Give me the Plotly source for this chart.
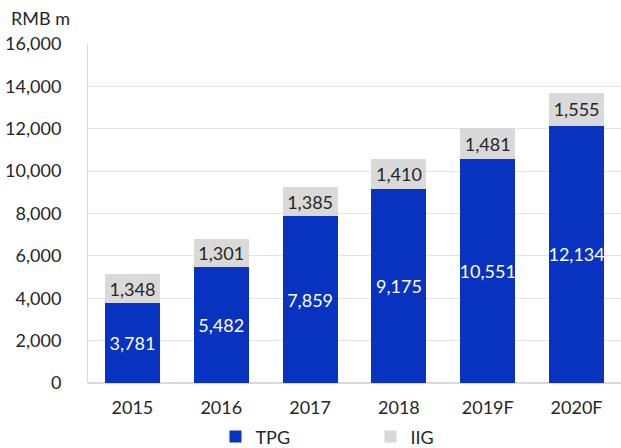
import plotly.graph_objects as go

years = ["2015", "2016", "2017", "2018", "2019F", "2020F"]
tpg = [3781, 5482, 7859, 9175, 10551, 12134]
iig = [1348, 1301, 1385, 1410, 1481, 1555]
y_ticks = list(range(0, 16001, 2000))

BLUE = "#0832C0"
GREY = "#D9D9D9"
FONT = "Lato"
FS = 18

fig = go.Figure()
fig.add_trace(go.Bar(
    x=years, y=tpg, name="TPG", marker=dict(color=BLUE, line=dict(width=0)),
    text=[f"{v:,}" for v in tpg], textposition="inside", insidetextanchor="middle",
    textangle=0,
    textfont=dict(color="white", size=FS, family=FONT), constraintext="none",
))
fig.add_trace(go.Bar(
    x=years, y=iig, name="IIG", marker=dict(color=GREY, line=dict(width=0)),
    text=[f"{v:,}" for v in iig], textposition="inside", insidetextanchor="middle",
    textangle=0,
    textfont=dict(color="#262626", size=FS, family=FONT), constraintext="none",
))

fig.update_layout(
    barmode="stack", bargap=0.38,
    width=621, height=448,
    margin=dict(l=88, r=0, t=44, b=65, autoexpand=False),
    plot_bgcolor="white", paper_bgcolor="white",
    font=dict(family=FONT, size=FS, color="#262626"),
    showlegend=True,
    legend=dict(orientation="h", x=0.53, xanchor="center", yref="container",
                y=0.025, yanchor="middle",
                font=dict(size=FS), entrywidth=110, traceorder="normal"),
    annotations=[dict(text="RMB m", xref="paper", yref="paper", x=-0.148, y=1.077,
                      xanchor="left", yanchor="middle", showarrow=False,
                      font=dict(size=FS, color="#262626"))],
)
fig.update_xaxes(showgrid=False, showline=False, ticklabelstandoff=12,
                 tickfont=dict(size=FS), automargin=False)
fig.update_yaxes(range=[0, 16000], tickvals=y_ticks, tickformat=",",
                 gridcolor="#E4E4E4", gridwidth=1, zeroline=True, zerolinecolor="#D9D9D9",
                 showline=True, linecolor="#D9D9D9", ticklabelstandoff=22,
                 tickfont=dict(size=FS), automargin=False)

fig.write_html("out.html")
